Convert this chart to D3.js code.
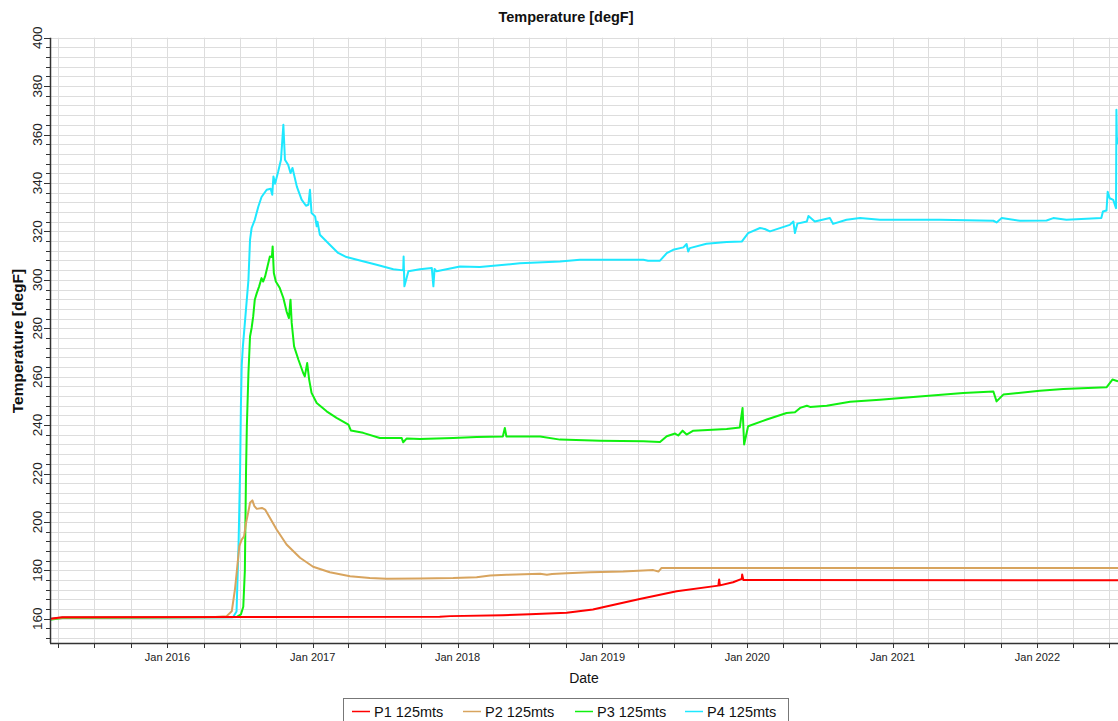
<!DOCTYPE html>
<html>
<head>
<meta charset="utf-8">
<script src="https://cdn.jsdelivr.net/npm/d3@7"></script>
<style>
  html, body { margin: 0; padding: 0; background: #ffffff; }
  svg { display: block; font-family: "Liberation Sans", Arial, sans-serif; }
</style>
</head>
<body>
<svg id="chart" width="1118" height="721"></svg>
<script>
// Temperature history at four observation points (degF), sampled as [date, value]
const p1Series = [
  ["2015-03-11",160.0],["2015-04-11",160.6],["2017-11-17",160.8],["2017-12-13",161.1],
  ["2018-04-25",161.5],["2018-07-02",161.9],["2018-10-03",162.5],["2018-12-08",163.8],
  ["2019-01-02",164.8],["2019-04-05",168.2],["2019-07-07",171.4],["2019-10-20",173.7],
  ["2019-10-22",176.2],["2019-10-24",173.8],["2019-11-26",175.1],["2019-12-18",176.5],
  ["2019-12-19",178.3],["2019-12-22",176.0],["2022-07-23",175.9]
];
const p2Series = [
  ["2015-03-11",159.8],["2015-04-11",160.5],["2016-04-30",160.7],["2016-05-29",161.1],
  ["2016-06-11",163.1],["2016-06-19",172.1],["2016-06-25",181.7],["2016-06-30",190.0],
  ["2016-07-06",192.7],["2016-07-12",194.1],["2016-07-17",199.6],["2016-07-23",204.4],
  ["2016-07-27",207.9],["2016-08-02",208.9],["2016-08-07",206.5],["2016-08-13",205.4],
  ["2016-08-26",205.8],["2016-09-03",205.1],["2016-09-15",201.7],["2016-10-02",196.9],
  ["2016-10-27",190.7],["2016-11-30",185.2],["2017-01-02",181.5],["2017-02-13",179.2],
  ["2017-04-05",177.6],["2017-05-25",176.8],["2017-07-06",176.5],["2017-09-28",176.6],
  ["2017-12-21",176.8],["2018-02-18",177.2],["2018-03-24",177.9],["2018-05-05",178.2],
  ["2018-07-28",178.6],["2018-08-14",178.2],["2018-08-27",178.5],["2018-10-03",178.8],
  ["2018-12-01",179.2],["2019-02-22",179.5],["2019-05-09",180.1],["2019-05-22",179.5],
  ["2019-05-30",181.0],["2022-07-23",181.0]
];
const p3Series = [
  ["2015-03-11",159.6],["2015-04-11",160.3],["2016-06-23",160.7],["2016-07-04",161.8],
  ["2016-07-10",165.0],["2016-07-14",180.0],["2016-07-17",221.6],["2016-07-19",239.5],
  ["2016-07-23",261.5],["2016-07-27",276.6],["2016-07-31",280.1],["2016-08-04",284.9],
  ["2016-08-08",291.8],["2016-08-13",294.5],["2016-08-19",297.3],["2016-08-25",300.7],
  ["2016-08-29",299.3],["2016-09-03",301.4],["2016-09-09",305.5],["2016-09-15",309.6],
  ["2016-09-20",309.4],["2016-09-22",313.8],["2016-09-25",302.8],["2016-09-30",299.3],
  ["2016-10-10",296.6],["2016-10-19",292.5],["2016-10-27",287.0],["2016-11-02",284.2],
  ["2016-11-06",291.8],["2016-11-09",282.2],["2016-11-15",272.5],["2016-11-26",267.0],
  ["2016-12-08",261.5],["2016-12-12",260.1],["2016-12-18",265.6],["2016-12-23",258.8],
  ["2016-12-29",253.3],["2017-01-11",249.1],["2017-02-05",245.7],["2017-03-02",243.0],
  ["2017-04-01",240.2],["2017-04-07",237.8],["2017-05-08",236.8],["2017-06-19",234.7],
  ["2017-08-13",234.7],["2017-08-17",232.9],["2017-08-26",234.5],["2017-09-28",234.3],
  ["2017-12-21",234.7],["2018-02-18",235.1],["2018-04-25",235.3],["2018-04-30",238.8],
  ["2018-05-04",235.3],["2018-07-28",235.3],["2018-09-16",234.0],["2018-12-26",233.5],
  ["2019-04-14",233.3],["2019-05-26",233.0],["2019-06-12",235.4],["2019-07-03",236.5],
  ["2019-07-11",235.7],["2019-07-22",237.7],["2019-08-01",236.1],["2019-08-18",237.7],
  ["2019-11-10",238.4],["2019-12-13",239.0],["2019-12-20",247.1],["2019-12-24",232.0],
  ["2020-01-03",239.5],["2020-02-19",242.3],["2020-04-09",245.0],["2020-04-30",245.3],
  ["2020-05-13",247.1],["2020-05-30",248.0],["2020-06-07",247.5],["2020-07-19",248.0],
  ["2020-09-16",249.6],["2020-11-30",250.5],["2021-02-22",251.6],["2021-06-28",253.3],
  ["2021-09-12",253.9],["2021-09-20",249.8],["2021-10-07",252.6],["2022-01-07",254.2],
  ["2022-03-07",254.9],["2022-06-24",255.6],["2022-07-09",258.8],["2022-07-23",258.1]
];
const p4Series = [
  ["2015-03-11",159.9],["2015-04-11",160.5],["2016-06-14",160.6],["2016-06-23",163.0],
  ["2016-06-28",190.0],["2016-07-02",221.6],["2016-07-04",247.7],["2016-07-06",264.3],
  ["2016-07-09",272.5],["2016-07-14",282.2],["2016-07-23",300.0],["2016-07-27",316.5],
  ["2016-07-31",321.4],["2016-08-08",324.8],["2016-08-17",330.3],["2016-08-25",334.2],
  ["2016-09-07",337.2],["2016-09-17",337.6],["2016-09-21",335.1],["2016-09-24",342.7],
  ["2016-09-28",339.7],["2016-10-06",344.7],["2016-10-13",349.6],["2016-10-19",364.0],
  ["2016-10-23",349.6],["2016-10-31",347.5],["2016-11-06",344.1],["2016-11-11",346.2],
  ["2016-11-22",338.5],["2016-12-04",333.1],["2016-12-15",330.6],["2016-12-21",331.0],
  ["2016-12-25",337.2],["2016-12-29",327.6],["2017-01-07",326.2],["2017-01-11",322.1],
  ["2017-01-13",324.0],["2017-01-19",318.6],["2017-02-13",314.5],["2017-03-06",311.1],
  ["2017-03-27",309.4],["2017-04-30",308.0],["2017-06-11",306.2],["2017-07-23",304.4],
  ["2017-08-17",303.9],["2017-08-18",309.6],["2017-08-20",297.3],["2017-08-30",303.5],
  ["2017-09-28",304.4],["2017-10-28",304.9],["2017-11-01",297.3],["2017-11-04",304.5],
  ["2017-11-09",303.5],["2017-12-04",304.4],["2018-01-07",305.5],["2018-02-26",305.3],
  ["2018-06-07",306.8],["2018-09-16",307.6],["2018-11-05",308.3],["2019-04-14",308.3],
  ["2019-04-26",307.9],["2019-05-26",307.9],["2019-06-12",311.0],["2019-06-28",312.4],
  ["2019-07-24",313.4],["2019-08-01",314.8],["2019-08-05",311.7],["2019-08-09",313.1],
  ["2019-09-20",314.9],["2019-11-10",315.6],["2019-12-18",315.8],["2020-01-03",319.3],
  ["2020-02-02",321.4],["2020-02-14",321.0],["2020-02-27",320.0],["2020-04-17",322.7],
  ["2020-04-26",324.1],["2020-04-30",319.3],["2020-05-06",323.2],["2020-05-30",324.1],
  ["2020-06-03",326.4],["2020-06-19",324.1],["2020-07-27",325.5],["2020-08-04",323.1],
  ["2020-09-07",324.8],["2020-10-11",325.5],["2020-11-30",324.8],["2021-04-30",324.8],
  ["2021-09-12",324.4],["2021-09-20",323.7],["2021-10-03",325.5],["2021-11-18",324.4],
  ["2022-01-24",324.5],["2022-02-10",325.5],["2022-03-15",324.8],["2022-06-11",325.5],
  ["2022-06-15",328.2],["2022-06-24",328.6],["2022-06-27",336.4],["2022-07-02",333.7],
  ["2022-07-11",333.0],["2022-07-18",329.6],["2022-07-19",370.2],["2022-07-20",359.2],
  ["2022-07-22",356.0]
];

const seriesNames = ["P1 125mts", "P2 125mts", "P3 125mts", "P4 125mts"];
const seriesColors = ["#ff0000", "#d8a45e", "#10f010", "#1ee8ff"];
const dateExtent = ["2015-03-11", "2022-07-23"];
const tempExtent = [150, 400];
const yMajorTicks = [160, 180, 200, 220, 240, 260, 280, 300, 320, 340, 360, 380, 400];

const parse = d3.timeParse("%Y-%m-%d");
const allSeries = [p1Series, p2Series, p3Series, p4Series].map((s, i) => ({
  name: seriesNames[i],
  color: seriesColors[i],
  points: s.map(([d, v]) => ({date: parse(d), value: v}))
}));

const svg = d3.select("#chart");
const plot = {left: 50, right: 1118, top: 37.7, bottom: 643};

const x = d3.scaleTime().domain(dateExtent.map(parse)).range([plot.left, plot.right]);
const y = d3.scaleLinear().domain(tempExtent).range([plot.bottom, plot.top]);

// quarterly ticks for the date axis, minor steps of 4 degF for the temperature grid
const quarters = x.ticks(d3.timeMonth.every(3));
const yMinor = d3.range(152, 401, 4);

const grid = svg.append("g").attr("class", "grid");
grid.selectAll("line.h").data(yMinor).join("line")
  .attr("x1", plot.left).attr("x2", plot.right)
  .attr("y1", d => Math.round(y(d)) + 0.5).attr("y2", d => Math.round(y(d)) + 0.5)
  .attr("stroke", "#dddddd").attr("stroke-width", 1);
grid.selectAll("line.v").data(quarters).join("line")
  .attr("y1", plot.top).attr("y2", plot.bottom)
  .attr("x1", d => Math.round(x(d)) + 0.5).attr("x2", d => Math.round(x(d)) + 0.5)
  .attr("stroke", "#dddddd").attr("stroke-width", 1);

// temperature traces, painted P4 first so P1 sits on top along the baseline
const line = d3.line().x(d => x(d.date)).y(d => y(d.value));
svg.append("g").selectAll("path").data(allSeries.slice().reverse()).join("path")
  .attr("d", d => line(d.points))
  .attr("fill", "none")
  .attr("stroke", d => d.color)
  .attr("stroke-width", 2)
  .attr("stroke-linejoin", "round");

// x axis
const xAxis = svg.append("g").attr("transform", `translate(0,${plot.bottom})`);
xAxis.append("line").attr("x1", plot.left).attr("x2", plot.right)
  .attr("y1", 0.5).attr("y2", 0.5).attr("stroke", "#333").attr("stroke-width", 1.5);
xAxis.selectAll("line.t").data(quarters).join("line")
  .attr("x1", d => Math.round(x(d)) + 0.5).attr("x2", d => Math.round(x(d)) + 0.5)
  .attr("y1", 0).attr("y2", 5).attr("stroke", "#333");
const janTicks = quarters.filter(d => d.getMonth() === 0);
const fmt = d3.timeFormat("Jan %Y");
xAxis.selectAll("text").data(janTicks).join("text")
  .attr("x", d => x(d)).attr("y", 18)
  .attr("text-anchor", "middle").attr("font-size", 11).attr("fill", "#222")
  .text(d => fmt(d));
svg.append("text").attr("x", 584).attr("y", 683)
  .attr("text-anchor", "middle").attr("font-size", 14).attr("fill", "#111").text("Date");

// y axis
const yAxis = svg.append("g");
yAxis.append("line").attr("x1", plot.left + 0.5).attr("x2", plot.left + 0.5)
  .attr("y1", plot.top).attr("y2", plot.bottom).attr("stroke", "#333").attr("stroke-width", 1.5);
yAxis.selectAll("line.minor").data(yMinor).join("line")
  .attr("x1", plot.left - 4).attr("x2", plot.left)
  .attr("y1", d => Math.round(y(d)) + 0.5).attr("y2", d => Math.round(y(d)) + 0.5)
  .attr("stroke", "#333");
yAxis.selectAll("line.major").data(yMajorTicks).join("line")
  .attr("x1", plot.left - 6).attr("x2", plot.left)
  .attr("y1", d => Math.round(y(d)) + 0.5).attr("y2", d => Math.round(y(d)) + 0.5)
  .attr("stroke", "#333");
yAxis.selectAll("text").data(yMajorTicks).join("text")
  .attr("transform", d => `translate(42,${y(d)}) rotate(-90)`)
  .attr("text-anchor", "middle").attr("font-size", 13.5).attr("fill", "#222")
  .text(d => d);
svg.append("text").attr("transform", "translate(23,341) rotate(-90)")
  .attr("text-anchor", "middle").attr("font-size", 15.5).attr("font-weight", "bold")
  .attr("fill", "#111").text("Temperature [degF]");

// title
svg.append("text").attr("x", 566).attr("y", 22)
  .attr("text-anchor", "middle").attr("font-size", 14.5).attr("font-weight", "bold")
  .attr("fill", "#111").text("Temperature [degF]");

// legend
const legend = svg.append("g");
legend.append("rect").attr("x", 343.5).attr("y", 698.5).attr("width", 445).attr("height", 30)
  .attr("fill", "#fff").attr("stroke", "#777");
const legendX = [352, 463, 575, 685];
allSeries.forEach((s, i) => {
  legend.append("line").attr("x1", legendX[i]).attr("x2", legendX[i] + 18)
    .attr("y1", 711.5).attr("y2", 711.5).attr("stroke", s.color).attr("stroke-width", 1.5);
  legend.append("text").attr("x", legendX[i] + 22).attr("y", 717)
    .attr("font-size", 14.5).attr("fill", "#111").text(s.name);
});
</script>
</body>
</html>
